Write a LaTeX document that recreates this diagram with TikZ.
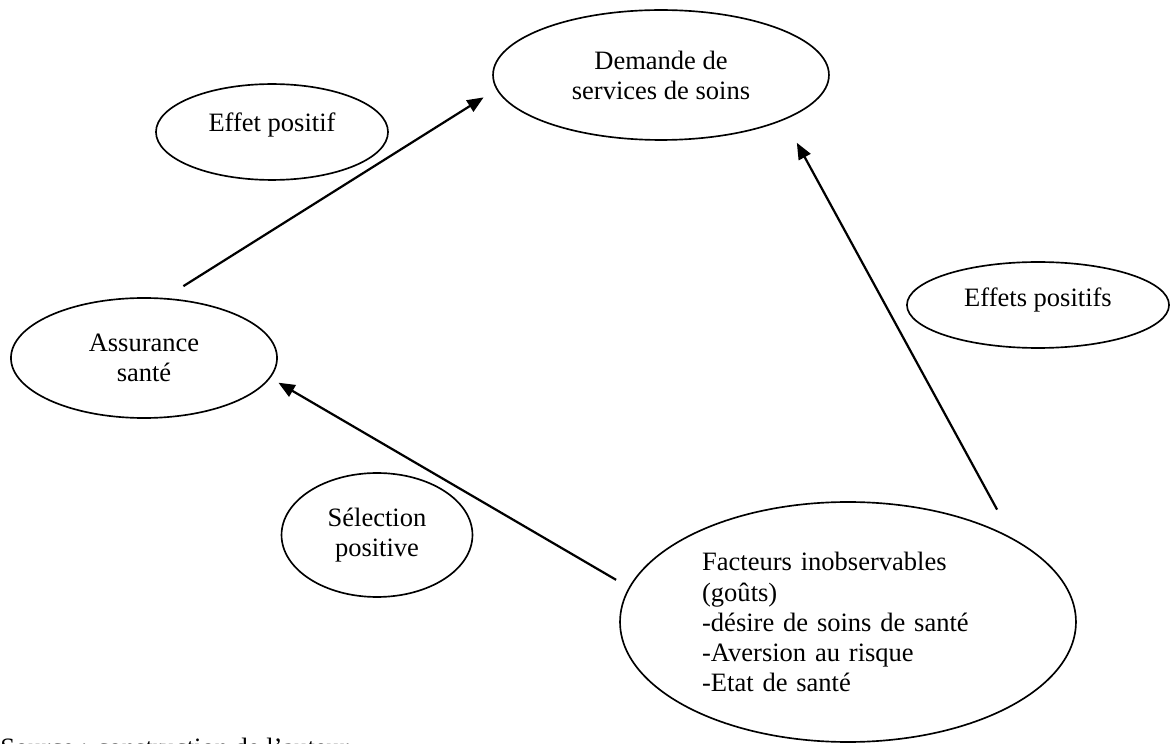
\documentclass[tikz,border=0pt]{standalone}
\usepackage{fontspec}
\setmainfont{Liberation Serif}
\usetikzlibrary{shapes.geometric,arrows.meta}

\begin{document}
\begin{tikzpicture}[x=0.4525pt, y=-0.4525pt,
                        font=\fontsize{12}{13.6}\selectfont,
                        bulle/.style={ellipse, draw, line width=0.75pt, inner sep=0pt, align=center},
                        fleche/.style={-{Triangle[length=7.4pt, width=6pt]}, line width=1pt}]
                        \useasboundingbox (0,0) rectangle (1170,744);

                        \node (D) [bulle, minimum width=152pt, minimum height=58.8pt] at (661,75) {Demande de\\services de soins};
                        \node (EP) [bulle, minimum width=105pt, minimum height=43.4pt, text depth=8.7pt] at (272,132) {Effet positif};
                        \node (A) [bulle, minimum width=120.4pt, minimum height=54.3pt] at (144,358) {Assurance\\santé};
                        \node (EPs) [bulle, minimum width=118.6pt, minimum height=38.9pt, text depth=7.3pt] at (1038,305) {Effets positifs};
                        \node (S) [bulle, minimum width=86.4pt, minimum height=56.1pt] at (377,535) {Sélection\\positive};
                        \node (F) [bulle, align=left, text width=132pt, minimum width=206.3pt, minimum height=108.6pt] at (848,622)
                            {Facteurs inobservables\\(goûts)\\-désire de soins de santé\\-Aversion au risque\\-Etat de santé};
                        \node (src) [anchor=base west, inner sep=0pt] at (0,756) {Source : construction de l’auteur};

                        \draw[fleche, shorten <=10pt, shorten >=6.8pt] (A.71) -- (D.185);
                        \draw[fleche, shorten <=14.7pt, shorten >=11.8pt] (F.27) -- (D.-20);
                        \draw[fleche, shorten <=6.7pt, shorten >=4.2pt] (F.171) -- (A.-9);
                    \end{tikzpicture}
\end{document}
